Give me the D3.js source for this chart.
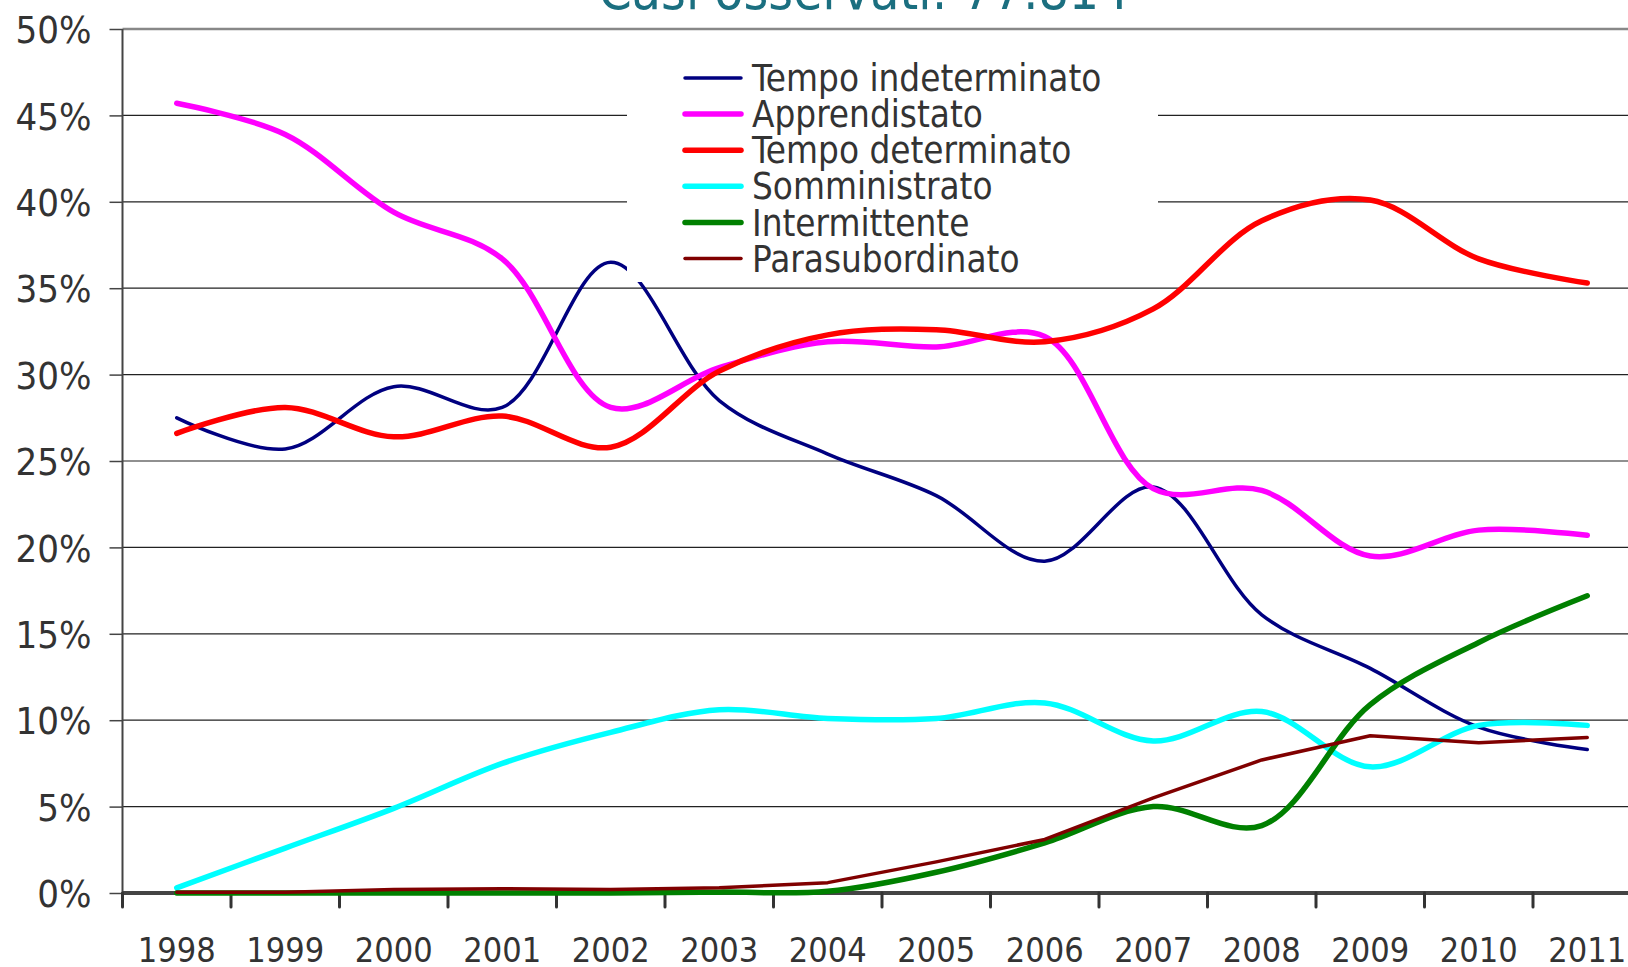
<!DOCTYPE html>
<html>
<head>
<meta charset="utf-8">
<script src="https://cdn.jsdelivr.net/npm/d3@7"></script>
<style>
  body { margin: 0; background: #fff; overflow: hidden; }
  text { font-family: "DejaVu Sans Condensed", "DejaVu Sans", sans-serif; fill: #333; }
</style>
</head>
<body>
<div id="chart"></div>
<script>
// Data
var years = ["1998", "1999", "2000", "2001", "2002", "2003", "2004", "2005", "2006", "2007", "2008", "2009", "2010", "2011"];
var yTicks = [0, 5, 10, 15, 20, 25, 30, 35, 40, 45, 50];

var tempoIndeterminato = [27.5, 25.7, 29.3, 28.1, 36.5, 28.5, 25.4, 23.0, 19.2, 23.5, 16.1, 13.0, 9.6, 8.3];
var apprendistato      = [45.7, 43.9, 39.4, 36.7, 28.1, 30.4, 31.9, 31.6, 32.2, 23.4, 23.3, 19.5, 21.0, 20.7];
var tempoDeterminato   = [26.6, 28.1, 26.4, 27.6, 25.8, 30.2, 32.3, 32.6, 31.9, 33.8, 38.9, 40.1, 36.7, 35.3];
var somministrato      = [0.3, 2.6, 4.9, 7.5, 9.3, 10.6, 10.1, 10.1, 11.0, 8.8, 10.5, 7.3, 9.7, 9.7];
var intermittente      = [0.0, 0.0, 0.0, 0.0, 0.0, 0.05, 0.1, 1.2, 2.9, 5.0, 3.9, 10.9, 14.5, 17.2];
var parasubordinato    = [0.05, 0.05, 0.2, 0.25, 0.2, 0.3, 0.6, 1.8, 3.1, 5.5, 7.7, 9.1, 8.7, 9.0];

var seriesNames = ["Tempo indeterminato", "Apprendistato", "Tempo determinato", "Somministrato", "Intermittente", "Parasubordinato"];
var seriesColors = ["#000080", "#ff00ff", "#ff0000", "#00ffff", "#008000", "#800000"];
var seriesWidths = [3.5, 5.5, 5.5, 5.5, 5.5, 3.5];
var seriesSmooth = [true, true, true, true, true, false];
var seriesValues = [tempoIndeterminato, apprendistato, tempoDeterminato, somministrato, intermittente, parasubordinato];

var titleText = "Casi osservati: 77.814";

// SVG area
var svgWidth = 1628;
var svgHeight = 967;

var chartMargin = { top: 29, left: 122.5 };
var chartHeight = 893 - chartMargin.top;
var bandWidth = 108.5;
var chartWidth = bandWidth * years.length;

var svg = d3.select("#chart")
  .append("svg")
  .attr("width", svgWidth)
  .attr("height", svgHeight);

var chartGroup = svg.append("g")
  .attr("transform", `translate(${chartMargin.left}, ${chartMargin.top})`);

// Scales
var xScale = d3.scaleBand()
  .domain(years)
  .range([0, chartWidth])
  .padding(0);

var yScale = d3.scaleLinear()
  .domain([0, 50])
  .range([chartHeight, 0]);

// Title (cut off at the top, as in the original)
svg.append("text")
  .attr("x", 864)
  .attr("y", 9)
  .attr("text-anchor", "middle")
  .attr("font-size", "53px")
  .style("fill", "#1b6f80")
  .text(titleText);

// Gridlines
chartGroup.selectAll(".grid")
  .data(yTicks.filter(t => t > 0))
  .enter()
  .append("line")
  .attr("x1", 0)
  .attr("x2", svgWidth)
  .attr("y1", d => yScale(d))
  .attr("y2", d => yScale(d))
  .attr("stroke", d => d === 50 ? "#888" : "#222")
  .attr("stroke-width", d => d === 50 ? 2.5 : 1.2);

// Y axis
var leftAxis = d3.axisLeft(yScale)
  .tickValues(yTicks)
  .tickSize(13)
  .tickPadding(18)
  .tickFormat(d => d + "%");

var yAxisG = chartGroup.append("g").call(leftAxis);
yAxisG.select(".domain").remove();
yAxisG.selectAll(".tick line").attr("stroke", "#444").attr("stroke-width", 1.5);
yAxisG.selectAll(".tick text")
  .attr("font-size", "38px")
  .attr("dy", "0.36em")
  .style("fill", "#333");

chartGroup.append("line")
  .attr("x1", 0).attr("x2", 0)
  .attr("y1", 0).attr("y2", chartHeight)
  .attr("stroke", "#444")
  .attr("stroke-width", 2);

// X axis: labels centred in the bands, ticks between the bands
var bottomAxis = d3.axisBottom(xScale)
  .tickSize(0)
  .tickPadding(45);

var xAxisG = chartGroup.append("g")
  .attr("transform", `translate(0, ${chartHeight})`)
  .call(bottomAxis);
xAxisG.select(".domain").remove();
xAxisG.selectAll(".tick text")
  .attr("font-size", "34px")
  .style("fill", "#333");

chartGroup.append("line")
  .attr("x1", 0).attr("x2", svgWidth)
  .attr("y1", chartHeight).attr("y2", chartHeight)
  .attr("stroke", "#444")
  .attr("stroke-width", 4);

chartGroup.selectAll(".xtick")
  .data(years)
  .enter()
  .append("line")
  .attr("x1", d => xScale(d))
  .attr("x2", d => xScale(d))
  .attr("y1", chartHeight)
  .attr("y2", chartHeight + 14)
  .attr("stroke", "#333")
  .attr("stroke-width", 3)
  .attr("stroke-linecap", "round");

// Lines
seriesValues.forEach(function(vals, i) {
  var line = d3.line()
    .x((v, j) => xScale(years[j]) + xScale.bandwidth() / 2)
    .y(v => yScale(v))
    .curve(seriesSmooth[i] ? d3.curveCatmullRom.alpha(0.5) : d3.curveLinear);

  chartGroup.append("path")
    .datum(vals)
    .attr("d", line)
    .attr("fill", "none")
    .attr("stroke", seriesColors[i])
    .attr("stroke-width", seriesWidths[i])
    .attr("stroke-linecap", "round")
    .attr("stroke-linejoin", "round");
});

// Legend
var legend = svg.append("g");

legend.append("rect")
  .attr("x", 627)
  .attr("y", 50)
  .attr("width", 531)
  .attr("height", 232)
  .attr("fill", "#fff");

var legendItems = legend.selectAll(".item")
  .data(seriesNames)
  .enter()
  .append("g")
  .attr("transform", (d, i) => `translate(685, ${78 + i * 36.1})`);

legendItems.append("line")
  .attr("x1", 0)
  .attr("x2", 56)
  .attr("stroke", (d, i) => seriesColors[i])
  .attr("stroke-width", (d, i) => seriesWidths[i])
  .attr("stroke-linecap", "round");

legendItems.append("text")
  .attr("x", 67)
  .attr("dy", "0.36em")
  .attr("font-size", "36.5px")
  .style("fill", "#333")
  .text(d => d);
</script>
</body>
</html>
